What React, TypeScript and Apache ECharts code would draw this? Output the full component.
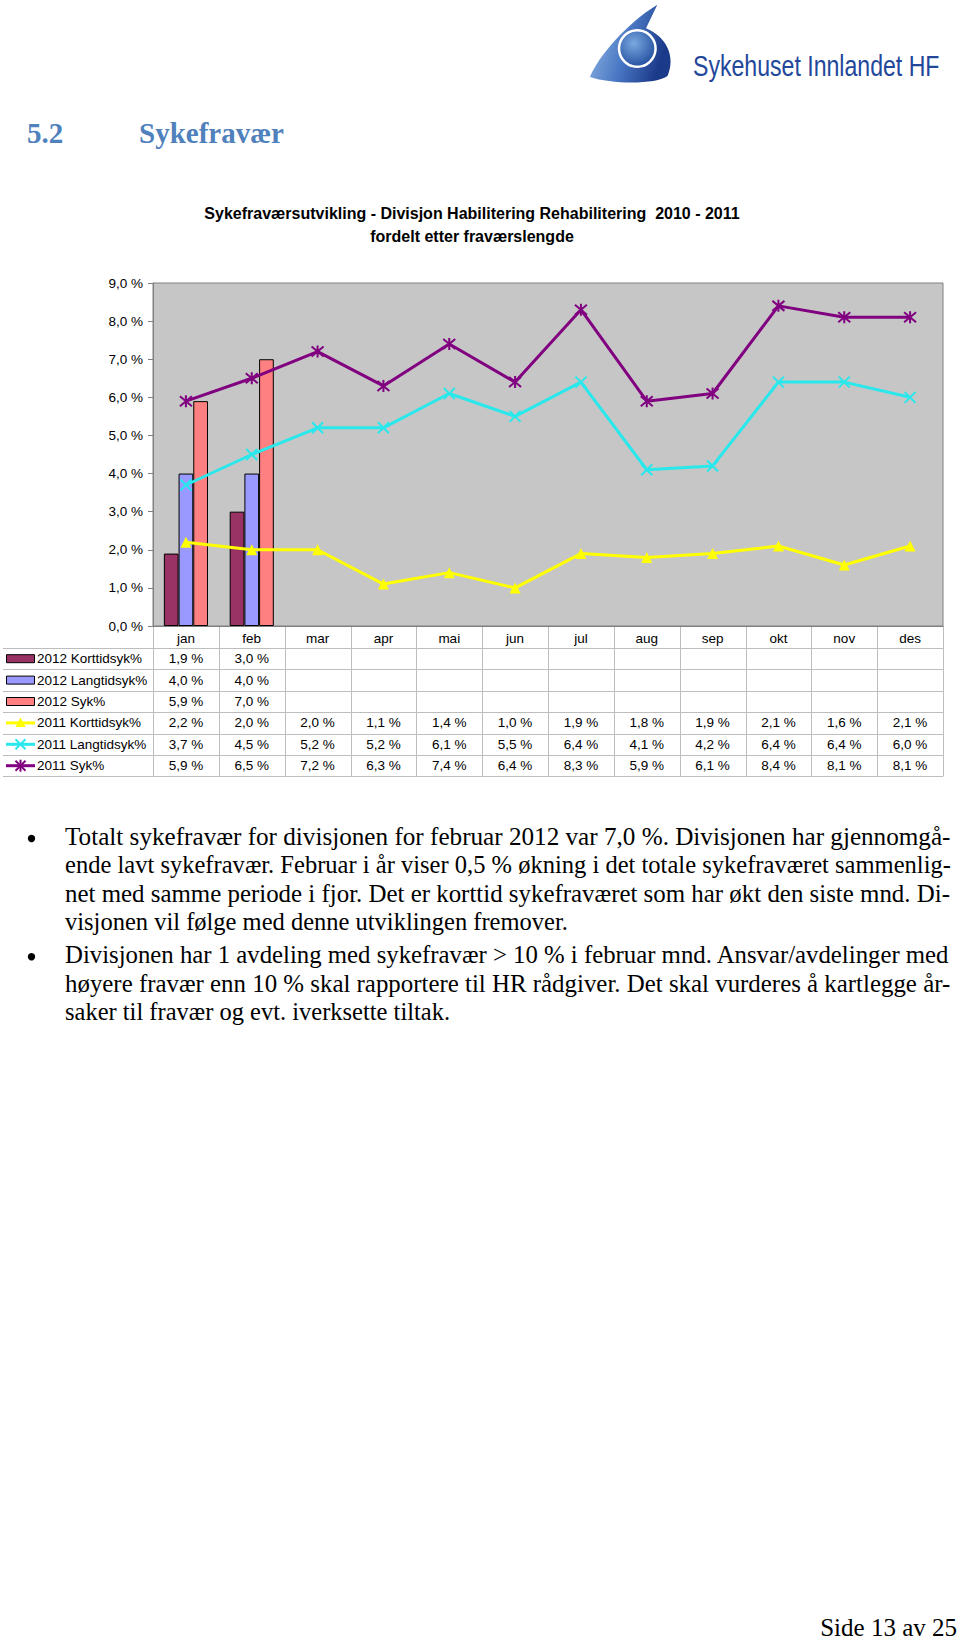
import React, { useEffect, useRef } from "react";
import * as echarts from "echarts";

const months = ["jan", "feb", "mar", "apr", "mai", "jun", "jul", "aug", "sep", "okt", "nov", "des"];
const kort2012 = [1.9, 3.0];
const lang2012 = [4.0, 4.0];
const syk2012 = [5.9, 7.0];
const kort2011 = [2.2, 2.0, 2.0, 1.1, 1.4, 1.0, 1.9, 1.8, 1.9, 2.1, 1.6, 2.1];
const lang2011 = [3.7, 4.5, 5.2, 5.2, 6.1, 5.5, 6.4, 4.1, 4.2, 6.4, 6.4, 6.0];
const syk2011 = [5.9, 6.5, 7.2, 6.3, 7.4, 6.4, 8.3, 5.9, 6.1, 8.4, 8.1, 8.1];
const yMin = 0;
const yMax = 9;
const yStep = 1;

const seriesNames = [
  "2012 Korttidsyk%",
  "2012 Langtidsyk%",
  "2012 Syk%",
  "2011 Korttidsyk%",
  "2011 Langtidsyk%",
  "2011 Syk%",
];

const chartTitle1 = "Sykefraværsutvikling - Divisjon Habilitering Rehabilitering  2010 - 2011";
const chartTitle2 = "fordelt etter fraværslengde";

const bullet1 = [
  "Totalt sykefravær for divisjonen for februar 2012 var 7,0 %. Divisjonen har gjennomgå-",
  "ende lavt sykefravær. Februar i år viser 0,5 % økning i det totale sykefraværet sammenlig-",
  "net med samme periode i fjor. Det er korttid sykefraværet som har økt den siste mnd. Di-",
  "visjonen vil følge med denne utviklingen fremover.",
];
const bullet2 = [
  "Divisjonen har 1 avdeling med sykefravær > 10 % i februar mnd. Ansvar/avdelinger med",
  "høyere fravær enn 10 % skal rapportere til HR rådgiver. Det skal vurderes å kartlegge år-",
  "saker til fravær og evt. iverksette tiltak.",
];

const C_KORT12 = "#993366";
const C_LANG12 = "#9999ff";
const C_SYK12 = "#ff8080";
const C_KORT11 = "#ffff00";
const C_LANG11 = "#28e8ec";
const C_SYK11 = "#800080";

const SANS = "'Liberation Sans', Arial, sans-serif";
const SERIF = "'Liberation Serif', 'Times New Roman', serif";
const FS = 13.5;

const fmt = (v: number) => v.toFixed(1).replace(".", ",") + " %";

const SWOOSH =
  "M30,77 C38,56.7 66.7,23.3 97.3,4.7 L86,28.3 C106.7,36.7 116,57 107.5,76 C96.7,84.5 52,84.5 30,77 Z";

let registered = false;

export default function App() {
  const ref = useRef<HTMLDivElement>(null);

  useEffect(() => {
    if (!registered) {
      echarts.graphic.registerShape("logoSwoosh", echarts.graphic.extendPath(SWOOSH, {}) as any);
      registered = true;
    }
    const el = ref.current!;
    const chart = echarts.init(el, null, { renderer: "svg" });

    const barCommon = {
      type: "bar",
      barGap: "0%",
      barCategoryGap: "33%",
    };

    chart.setOption({
      animation: false,
      backgroundColor: "#ffffff",
      grid: {
        left: 153,
        top: 283,
        width: 790,
        height: 343,
        show: true,
        backgroundColor: "#c6c6c6",
        borderColor: "#808080",
        borderWidth: 1,
      },
      xAxis: {
        type: "category",
        data: months,
        boundaryGap: true,
        axisLine: { lineStyle: { color: "#808080", width: 1 } },
        axisTick: { show: false },
        splitLine: { show: false },
        axisLabel: { margin: 5, fontSize: FS, color: "#000", fontFamily: SANS },
      },
      yAxis: {
        type: "value",
        min: yMin,
        max: yMax,
        interval: yStep,
        axisLine: { show: true, lineStyle: { color: "#808080", width: 1 } },
        axisTick: { show: true, length: 5, lineStyle: { color: "#808080" } },
        splitLine: { show: false },
        axisLabel: {
          margin: 10,
          fontSize: FS,
          color: "#000",
          fontFamily: SANS,
          formatter: (v: number) => fmt(v),
        },
      },
      series: [
        { ...barCommon, name: seriesNames[0], data: kort2012, itemStyle: { color: C_KORT12, borderColor: "#000", borderWidth: 1 } },
        { ...barCommon, name: seriesNames[1], data: lang2012, itemStyle: { color: C_LANG12, borderColor: "#000", borderWidth: 1 } },
        { ...barCommon, name: seriesNames[2], data: syk2012, itemStyle: { color: C_SYK12, borderColor: "#000", borderWidth: 1 } },
        {
          type: "line",
          name: seriesNames[3],
          data: kort2011,
          symbol: "triangle",
          symbolSize: 11,
          lineStyle: { color: C_KORT11, width: 3 },
          itemStyle: { color: C_KORT11 },
          z: 3,
        },
        {
          type: "line",
          name: seriesNames[4],
          data: lang2011,
          symbol: "path://M0,0L10,10M10,0L0,10",
          symbolSize: 11,
          lineStyle: { color: C_LANG11, width: 3 },
          itemStyle: { color: C_LANG11, borderColor: C_LANG11, borderWidth: 2 },
          z: 3,
        },
        {
          type: "line",
          name: seriesNames[5],
          data: syk2011,
          symbol: "path://M0,0L10,10M10,0L0,10M5,-1L5,11",
          symbolSize: 12,
          lineStyle: { color: C_SYK11, width: 3 },
          itemStyle: { color: C_SYK11, borderColor: C_SYK11, borderWidth: 2 },
          z: 4,
        },
      ],
    });

    // Table geometry from the chart's own scales
    const centers = months.map((m, i) => chart.convertToPixel({ xAxisIndex: 0 }, i) as number);
    const colW = centers[1] - centers[0];
    const axisY = chart.convertToPixel({ yAxisIndex: 0 }, yMin) as number;
    const leftX = centers[0] - colW / 2;
    const rightX = centers[centers.length - 1] + colW / 2;
    const headerH = 22;
    const rowH = 21.4;
    const rowTop = axisY + headerH;
    const tableBottom = rowTop + rowH * seriesNames.length;
    const lineCol = "#bdbdbd";

    const g: any[] = [];

    for (let i = 0; i <= seriesNames.length; i++) {
      const y = Math.round(rowTop + i * rowH) + 0.5;
      g.push({ type: "line", shape: { x1: 3, y1: y, x2: rightX, y2: y }, style: { stroke: lineCol, lineWidth: 1 } });
    }
    for (let j = 0; j <= months.length; j++) {
      const x = Math.round(leftX + j * colW) + 0.5;
      g.push({ type: "line", shape: { x1: x, y1: axisY, x2: x, y2: tableBottom }, style: { stroke: lineCol, lineWidth: 1 } });
    }

    const allData = [kort2012, lang2012, syk2012, kort2011, lang2011, syk2011];
    const colors = [C_KORT12, C_LANG12, C_SYK12, C_KORT11, C_LANG11, C_SYK11];

    allData.forEach((arr, r) => {
      const cy = rowTop + r * rowH + rowH / 2;
      if (r < 3) {
        g.push({ type: "rect", shape: { x: 6.5, y: cy - 4, width: 28, height: 8 }, style: { fill: colors[r], stroke: "#000", lineWidth: 1 } });
      } else {
        g.push({ type: "line", shape: { x1: 6, y1: cy, x2: 35, y2: cy }, style: { stroke: colors[r], lineWidth: 3 } });
        const mx = 20.5;
        if (r === 3) {
          g.push({ type: "polygon", shape: { points: [[mx, cy - 5.5], [mx - 5, cy + 4], [mx + 5, cy + 4]] }, style: { fill: colors[r] } });
        } else {
          g.push({ type: "line", shape: { x1: mx - 5, y1: cy - 5, x2: mx + 5, y2: cy + 5 }, style: { stroke: colors[r], lineWidth: 2 } });
          g.push({ type: "line", shape: { x1: mx + 5, y1: cy - 5, x2: mx - 5, y2: cy + 5 }, style: { stroke: colors[r], lineWidth: 2 } });
          if (r === 5) {
            g.push({ type: "line", shape: { x1: mx, y1: cy - 6, x2: mx, y2: cy + 6 }, style: { stroke: colors[r], lineWidth: 2 } });
          }
        }
      }
      g.push({
        type: "text",
        x: 37,
        y: cy,
        style: { text: seriesNames[r], fontSize: FS, fontFamily: SANS, fill: "#000", verticalAlign: "middle", align: "left" },
      });
      arr.forEach((v, i) => {
        if (v == null) return;
        g.push({
          type: "text",
          x: centers[i],
          y: cy,
          style: { text: fmt(v), fontSize: FS, fontFamily: SANS, fill: "#000", verticalAlign: "middle", align: "center" },
        });
      });
    });

    // chart title
    g.push({ type: "text", x: 472, y: 213, style: { text: chartTitle1, fontSize: 16, fontWeight: "bold", fontFamily: SANS, fill: "#000", align: "center", verticalAlign: "middle" } });
    g.push({ type: "text", x: 472, y: 236, style: { text: chartTitle2, fontSize: 16, fontWeight: "bold", fontFamily: SANS, fill: "#000", align: "center", verticalAlign: "middle" } });

    // heading
    g.push({ type: "text", x: 27, y: 133, style: { text: "5.2", fontSize: 29, fontWeight: "bold", fontFamily: SERIF, fill: "#4f81bd", align: "left", verticalAlign: "middle" } });
    g.push({ type: "text", x: 139, y: 133, style: { text: "Sykefravær", fontSize: 29, fontWeight: "bold", fontFamily: SERIF, fill: "#4f81bd", align: "left", verticalAlign: "middle" } });

    // logo
    g.push({
      type: "logoSwoosh",
      x: 560,
      y: 0,
      style: {
        fill: new echarts.graphic.LinearGradient(0, 0, 1, 0.3, [
          { offset: 0, color: "#9cc0e8" },
          { offset: 0.55, color: "#4a78c4" },
          { offset: 1, color: "#1c3a8a" },
        ]),
      },
    });
    g.push({ type: "circle", shape: { cx: 560 + 77.3, cy: 48.5, r: 19.5 }, style: { fill: "#ffffff" } });
    g.push({
      type: "circle",
      shape: { cx: 560 + 77.3, cy: 48.5, r: 17 },
      style: {
        fill: new echarts.graphic.RadialGradient(0.4, 0.35, 0.75, [
          { offset: 0, color: "#7aa8e0" },
          { offset: 1, color: "#1f4b9c" },
        ]),
      },
    });
    g.push({
      type: "text",
      x: 693,
      y: 66,
      scaleX: 0.77,
      style: { text: "Sykehuset Innlandet HF", fontSize: 30, fontFamily: SANS, fill: "#23479a", align: "left", verticalAlign: "middle" },
    });

    // bullet text (justified lines scaled to the text column width)
    const fs = 24.5;
    const lh = 28.3;
    const textX = 65;
    const textRight = 951;
    const ctx = document.createElement("canvas").getContext("2d");
    const measure = (t: string) => {
      if (!ctx) return textRight - textX;
      ctx.font = `${fs}px 'Liberation Serif', 'Times New Roman', serif`;
      return ctx.measureText(t).width;
    };
    let base = 845;
    const addPara = (lines: string[]) => {
      g.push({ type: "circle", shape: { cx: 31.5, cy: base - 6.5, r: 3.7 }, style: { fill: "#000" } });
      lines.forEach((t, i) => {
        const w = measure(t);
        const justified = i < lines.length - 1;
        let sx = justified ? (textRight - textX) / w : 1;
        if (!justified && textX + w > textRight) sx = (textRight - textX) / w;
        sx = Math.max(0.85, Math.min(1.12, sx));
        g.push({
          type: "text",
          x: textX,
          y: base + i * lh - 0.34 * fs,
          scaleX: sx,
          style: { text: t, fontSize: fs, fontFamily: SERIF, fill: "#000", align: "left", verticalAlign: "middle" },
        });
      });
      base += lines.length * lh;
    };
    addPara(bullet1);
    base += 5;
    addPara(bullet2);

    // footer
    g.push({ type: "text", x: 957, y: 1627, style: { text: "Side 13 av 25", fontSize: 25, fontFamily: SERIF, fill: "#000", align: "right", verticalAlign: "middle" } });

    chart.setOption({ graphic: g });

    return () => chart.dispose();
  }, []);

  return (
    <div
      ref={ref}
      style={{ position: "absolute", left: 0, top: 0, width: 960, height: 1644, background: "#fff" }}
    />
  );
}
